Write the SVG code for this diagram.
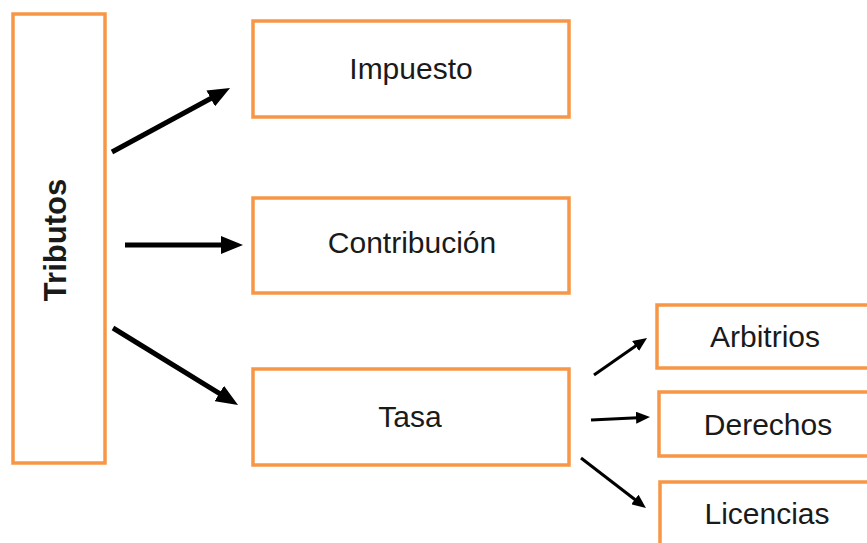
<svg xmlns="http://www.w3.org/2000/svg" width="867" height="543" viewBox="0 0 867 543">
<style>
.box{fill:#fff;stroke:#F79646;stroke-width:3.5}
.t{font-family:"Liberation Sans",Arial,sans-serif;font-size:30px;fill:#1a1a1a;text-anchor:middle}
.b{font-weight:bold;font-size:31px}
.big{stroke:#000;stroke-width:5;fill:none}
.small{stroke:#000;stroke-width:3;fill:none}
</style>
<defs>
<marker id="hb" markerUnits="userSpaceOnUse" markerWidth="22" markerHeight="18" refX="10" refY="9" orient="auto">
<path d="M0,0 L22,9 L0,18 z" fill="#000"/>
</marker>
<marker id="hs" markerUnits="userSpaceOnUse" markerWidth="14" markerHeight="12" refX="7" refY="6" orient="auto">
<path d="M0,0 L14,6 L0,12 z" fill="#000"/>
</marker>
</defs>
<rect width="867" height="543" fill="#fff"/>
<g id="tributos">
<rect class="box" x="13" y="14" width="92" height="449"/>
<text class="t b" transform="translate(66,240) rotate(-90)">Tributos</text>
</g>
<g id="impuesto">
<rect class="box" x="253" y="21" width="316" height="96"/>
<text class="t" x="411" y="79">Impuesto</text>
</g>
<g id="contribucion">
<rect class="box" x="253" y="198" width="316" height="95"/>
<text class="t" x="412" y="253">Contribución</text>
</g>
<g id="tasa">
<rect class="box" x="253" y="369" width="316" height="96"/>
<text class="t" x="410" y="427">Tasa</text>
</g>
<g id="arbitrios">
<rect class="box" x="657" y="305" width="220" height="63"/>
<text class="t" x="765" y="347">Arbitrios</text>
</g>
<g id="derechos">
<rect class="box" x="659" y="392" width="220" height="64"/>
<text class="t" x="768" y="435">Derechos</text>
</g>
<g id="licencias">
<rect class="box" x="660" y="482" width="220" height="70"/>
<text class="t" x="767" y="524">Licencias</text>
</g>
<g id="connectors">
<line class="big" x1="112" y1="152" x2="219.5" y2="93.7" marker-end="url(#hb)"/>
<line class="big" x1="125" y1="245" x2="231" y2="245" marker-end="url(#hb)"/>
<line class="big" x1="113" y1="328" x2="227.8" y2="398.7" marker-end="url(#hb)"/>
<line class="small" x1="594" y1="375" x2="641.3" y2="342" marker-end="url(#hs)"/>
<line class="small" x1="591" y1="420" x2="643" y2="417.4" marker-end="url(#hs)"/>
<line class="small" x1="581" y1="458" x2="640.4" y2="503.7" marker-end="url(#hs)"/>
</g>
</svg>
